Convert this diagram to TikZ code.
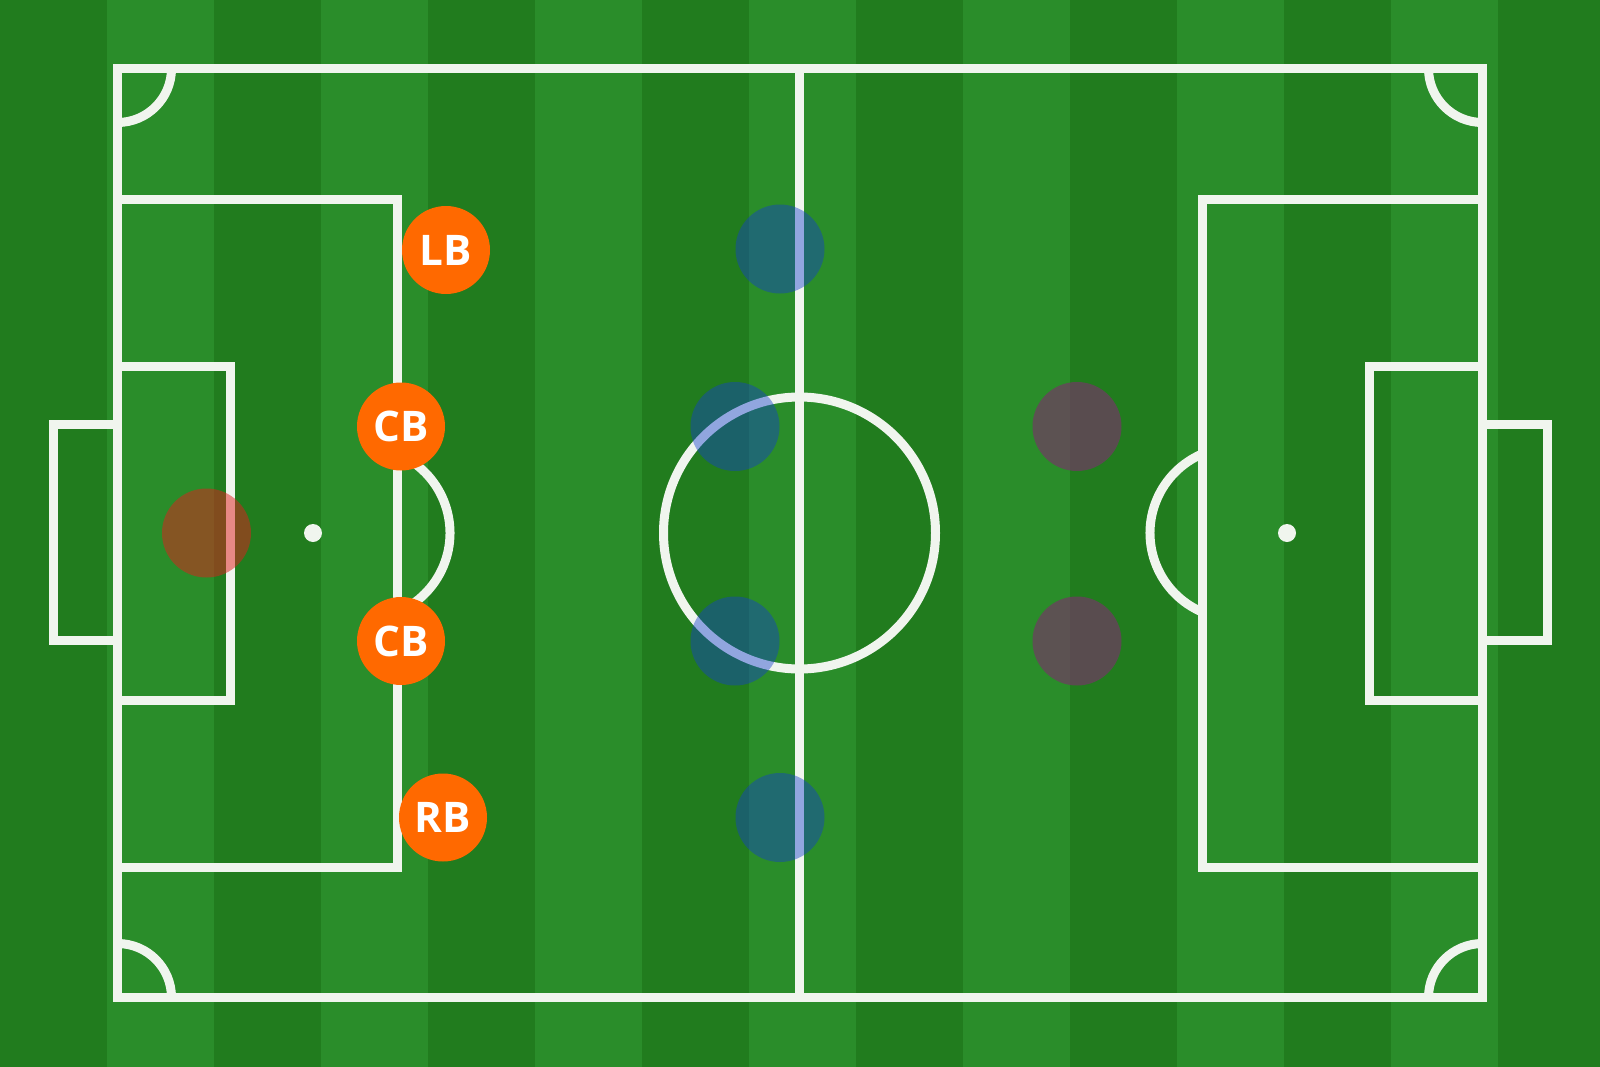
\documentclass[tikz,border=0pt]{standalone}
\usepackage{fontspec}
\setsansfont{Open Sans}
\usepackage{tikz}
\usetikzlibrary{positioning}

\definecolor{grasslight}{RGB}{42,141,42}
\definecolor{grassdark}{RGB}{33,124,30}
\definecolor{chalk}{RGB}{240,245,238}
\definecolor{shirt}{RGB}{255,105,0}
\definecolor{keeperred}{RGB}{225,30,30}
\definecolor{midblue}{RGB}{20,62,205}
\definecolor{foegrey}{RGB}{114,57,100}

\tikzset{
  pitchline/.style={chalk, line width=0.9mm},
  player/.style={circle, fill=shirt, minimum size=8.8mm, inner sep=0pt, text=white,
    font=\sffamily\bfseries\fontsize{12}{14}\selectfont},
  shade/.style={circle, minimum size=8.9mm, inner sep=0pt},
  keeper/.style={shade, fill=keeperred, fill opacity=0.5},
  middie/.style={shade, fill=midblue, fill opacity=0.43},
  foe/.style={shade, fill=foegrey, fill opacity=0.7}
}

\begin{document}
\begin{tikzpicture}[x=0.1mm, y=-0.1mm]
\useasboundingbox (0,0) rectangle (1600,1067);

\fill[grasslight] (0,0) rectangle (1600,1067);
\foreach \s in {0,214,...,1498}
  \fill[grassdark] (\s,0) rectangle (\s+107,1067);

\draw[pitchline] (117.5,68.5) rectangle (1482.5,997.5);
\draw[pitchline] (799.5,68.5) -- (799.5,997.5);
\draw[pitchline] (799.5,533) circle (136);

\draw[pitchline] (171.5,68.5) arc[start angle=0, end angle=90, radius=54];
\draw[pitchline] (1428.5,68.5) arc[start angle=180, end angle=90, radius=54];
\draw[pitchline] (171.5,997.5) arc[start angle=0, end angle=-90, radius=54];
\draw[pitchline] (1428.5,997.5) arc[start angle=180, end angle=270, radius=54];

\draw[pitchline] (117.5,199.5) rectangle (397.5,867);
\draw[pitchline] (117.5,366.5) rectangle (230.5,700.5);
\draw[pitchline] (53,424.5) rectangle (117.5,640.5);
\draw[pitchline] (364,533) ++(-67:86) arc[start angle=-67, end angle=67, radius=86];
\fill[chalk] (313,533) circle (9);

\draw[pitchline] (1202.5,199.5) rectangle (1482.5,867);
\draw[pitchline] (1369.5,366.5) rectangle (1482.5,700.5);
\draw[pitchline] (1482.5,424.5) rectangle (1547,640.5);
\draw[pitchline] (1236,533) ++(113:86) arc[start angle=113, end angle=247, radius=86];
\fill[chalk] (1287,533) circle (9);

\node[keeper] (gk) at (206.5,533) {};
\node[middie] (mtop) at (780,249) {};
\node[middie] (mleft) at (735,426.5) {};
\node[middie] (mright) at (735,641) {};
\node[middie] (mbot) at (780,817.5) {};
\node[foe] (fleft) at (1077,426.5) {};
\node[foe] (fright) at (1077,641) {};

\node[player] (lb) at (446,250) {LB};
\node[player] (cbl) at (401,426.5) {CB};
\node[player] (cbr) at (401,641) {CB};
\node[player] (rb) at (443,817.5) {RB};

\end{tikzpicture}
\end{document}
